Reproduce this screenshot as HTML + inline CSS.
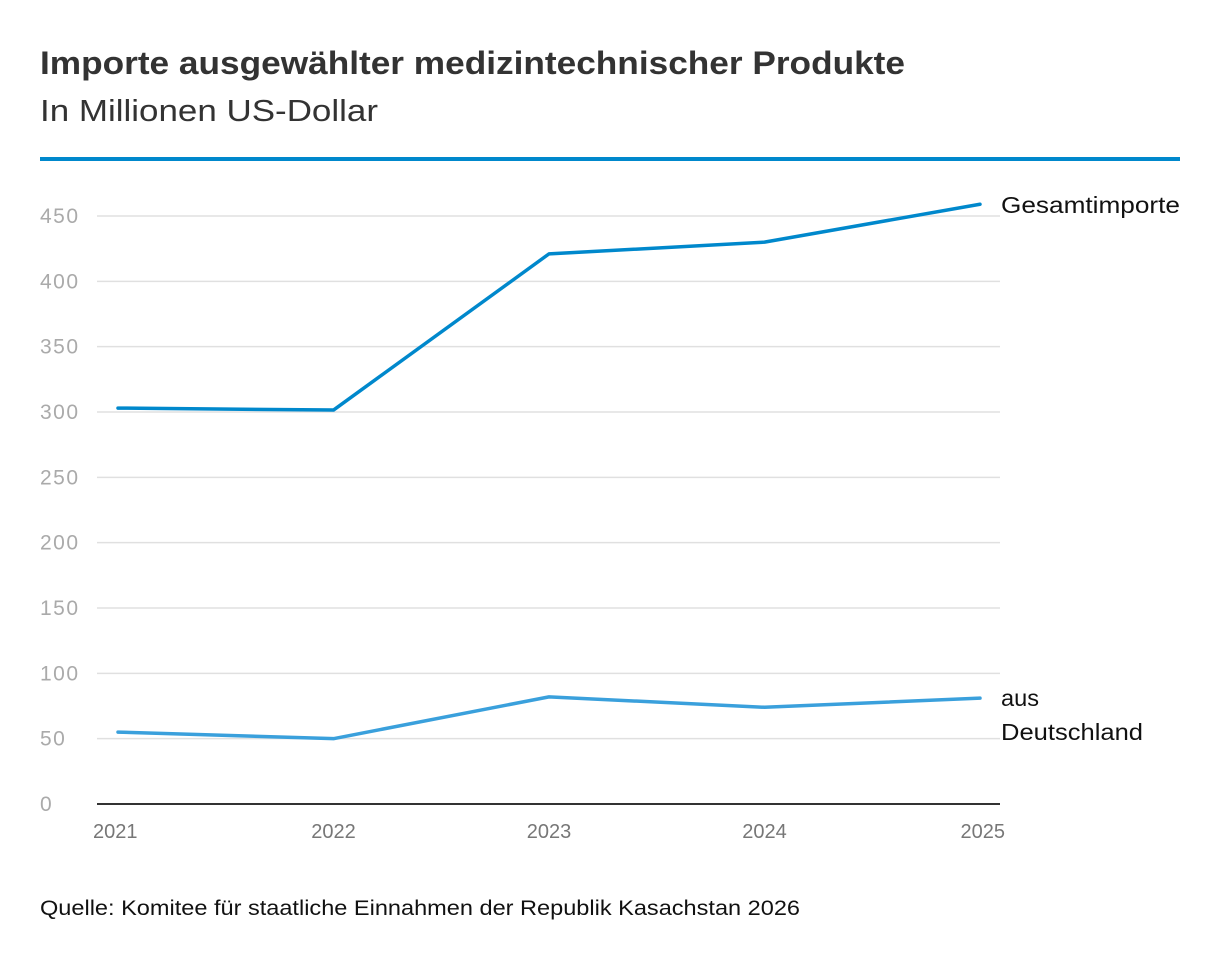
<!DOCTYPE html>
<html><head><meta charset="utf-8">
<style>
body{margin:0;background:#fff;width:1220px;height:962px;overflow:hidden;font-family:"Liberation Sans","DejaVu Sans",sans-serif;}
svg text{font-family:"Liberation Sans","DejaVu Sans",sans-serif;}
</style></head>
<body>
<svg id="chart" width="1220" height="962" xmlns="http://www.w3.org/2000/svg">
<text x="40" y="74" font-size="32" font-weight="bold" fill="#333" textLength="865" lengthAdjust="spacingAndGlyphs">Importe ausgewählter medizintechnischer Produkte</text>
<text x="40" y="121" font-size="31" fill="#333" textLength="338" lengthAdjust="spacingAndGlyphs">In Millionen US-Dollar</text>
<rect x="40" y="157" width="1140" height="4" fill="#0088cc"/>
<g id="grid"></g>
<g id="lines"></g>
<text x="40" y="915" font-size="21" fill="#111" textLength="760" lengthAdjust="spacingAndGlyphs">Quelle: Komitee für staatliche Einnahmen der Republik Kasachstan 2026</text>
</svg>
<script>
const years=[2021,2022,2023,2024,2025];
const gesamt=[303,301.5,421,430,459];
const deutschland=[55,50,82,74,81];
const yTicks=[0,50,100,150,200,250,300,350,400,450];
const NS="http://www.w3.org/2000/svg";
const x=i=>118+i*(980-118)/(years.length-1);
const y=v=>804-v*(804-216)/450;
const grid=document.getElementById('grid');
function mk(tag,attrs,parent){const e=document.createElementNS(NS,tag);for(const k in attrs)e.setAttribute(k,attrs[k]);parent.appendChild(e);return e;}
yTicks.forEach(t=>{
  const l=mk('line',{x1:97,x2:1000,y1:y(t),y2:y(t),stroke:t===0?'#333':'#e0e0e0','stroke-width':t===0?2:1.5},grid);
  
  
  const tx=mk('text',{x:40,y:y(t)+7,'font-size':21,fill:'#aaa','letter-spacing':'1.5'},grid);
  tx.textContent=t;
  
  
});
years.forEach((yr,i)=>{
  const tx=mk('text',{x:x(i),y:838,'font-size':20,fill:'#777','text-anchor':i===0?'start':(i===years.length-1?'end':'middle')},grid);
  if(i===0)tx.setAttribute('x',x(i)-25);
  if(i===years.length-1)tx.setAttribute('x',x(i)+25);
  tx.textContent=yr;
  
  
});
const lines=document.getElementById('lines');
function series(vals,color,name){
  const p=mk('polyline',{points:vals.map((v,i)=>x(i)+','+y(v)).join(' '),fill:'none',stroke:color,'stroke-width':3.5,'stroke-linejoin':'round','stroke-linecap':'round'},lines);
  
  
}
series(gesamt,'#0088cc','series-gesamtimporte');
series(deutschland,'#3aa0dc','series-aus-deutschland');
const l1=mk('text',{x:1001,y:y(gesamt[4])+9,'font-size':23,fill:'#111',textLength:179,lengthAdjust:'spacingAndGlyphs'},lines);
l1.textContent='Gesamtimporte';


const l2=mk('text',{x:1001,y:y(deutschland[4])+8,'font-size':23,fill:'#111',textLength:38,lengthAdjust:'spacingAndGlyphs'},lines);
l2.textContent='aus';


const l3=mk('text',{x:1001,y:y(deutschland[4])+42,'font-size':23,fill:'#111',textLength:142,lengthAdjust:'spacingAndGlyphs'},lines);
l3.textContent='Deutschland';


</script>
</body></html>
